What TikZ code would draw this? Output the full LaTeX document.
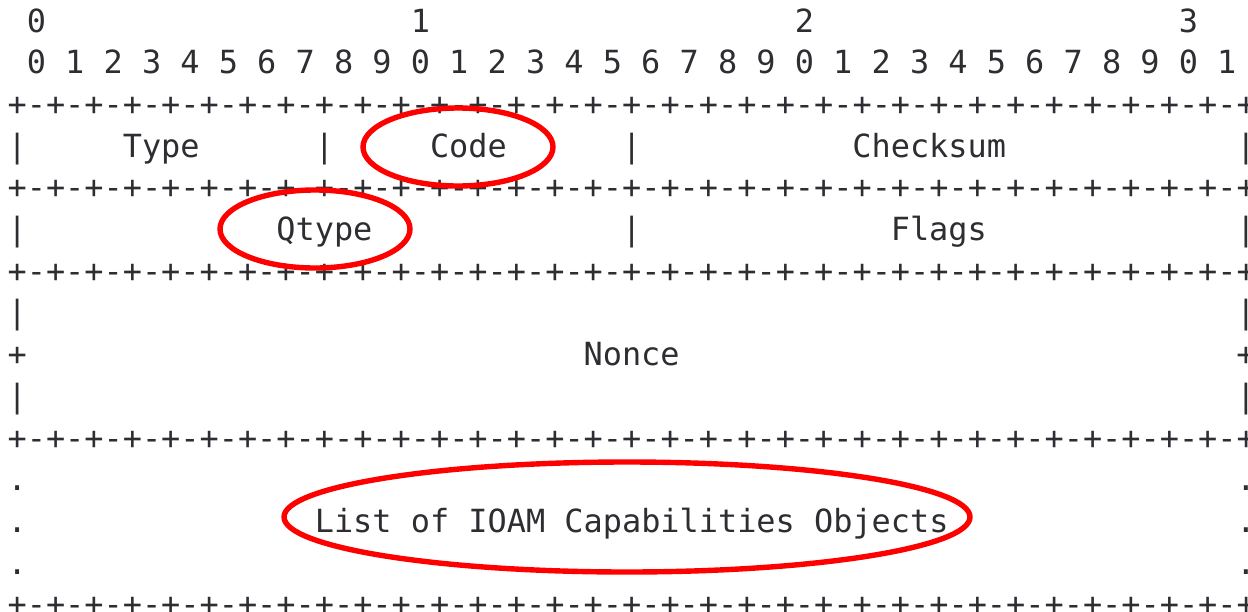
\documentclass[tikz,border=0pt]{standalone}
\usepackage{fontspec}
\newfontfamily\pktfont{DejaVu Sans Mono}
\definecolor{pktgray}{RGB}{45,45,50}
\newcommand{\colx}[1]{7.4+19.2*(#1)}
\newcommand{\rowy}[1]{32+41.7*(#1)}
\newcommand{\ruleline}{+-+-+-+-+-+-+-+-+-+-+-+-+-+-+-+-+-+-+-+-+-+-+-+-+-+-+-+-+-+-+-+-+}
\tikzset{
  cell/.style={anchor=base west, inner sep=0pt, text=pktgray,
    font=\pktfont\fontsize{31.9}{38}\selectfont},
  ring/.style={draw=red, line width=5.4pt}
}
\begin{document}
\begin{tikzpicture}[x=1pt, y=-1pt]
\useasboundingbox (0,0) rectangle (1248,611);

% Bit numbers
\node[cell] (ten0) at ({\colx{1}},{\rowy{0}}) {0};
\node[cell] (ten1) at ({\colx{21}},{\rowy{0}}) {1};
\node[cell] (ten2) at ({\colx{41}},{\rowy{0}}) {2};
\node[cell] (ten3) at ({\colx{61}},{\rowy{0}}) {3};
\foreach \i [evaluate=\i as \d using {int(mod(\i,10))}] in {0,...,31}
  \node[cell] (bit\i) at ({\colx{1+2*\i}},{\rowy{1}}) {\d};

% Border lines
\foreach \r in {2,4,6,10,14}
  \node[cell] (border\r) at ({\colx{0}},{\rowy{\r}}) {\ruleline};

% Type / Code / Checksum
\node[cell] (barA) at ({\colx{0}},{\rowy{3}}) {|};
\node[cell] (type) at ({\colx{6}},{\rowy{3}}) {Type};
\node[cell] (barB) at ({\colx{16}},{\rowy{3}}) {|};
\node[cell] (code) at ({\colx{22}},{\rowy{3}}) {Code};
\node[cell] (barC) at ({\colx{32}},{\rowy{3}}) {|};
\node[cell] (checksum) at ({\colx{44}},{\rowy{3}}) {Checksum};
\node[cell] (barD) at ({\colx{64}},{\rowy{3}}) {|};

% Qtype / Flags
\node[cell] (barE) at ({\colx{0}},{\rowy{5}}) {|};
\node[cell] (qtype) at ({\colx{14}},{\rowy{5}}) {Qtype};
\node[cell] (barF) at ({\colx{32}},{\rowy{5}}) {|};
\node[cell] (flags) at ({\colx{46}},{\rowy{5}}) {Flags};
\node[cell] (barG) at ({\colx{64}},{\rowy{5}}) {|};

% Nonce
\foreach \r/\s in {7/|,8/+,9/|} {
  \node[cell] (left\r) at ({\colx{0}},{\rowy{\r}}) {\s};
  \node[cell] (right\r) at ({\colx{64}},{\rowy{\r}}) {\s};
}
\node[cell] (nonce) at ({\colx{30}},{\rowy{8}}) {Nonce};

% Capabilities objects
\foreach \r in {11,12,13} {
  \node[cell] (ldot\r) at ({\colx{0}},{\rowy{\r}}) {.};
  \node[cell] (rdot\r) at ({\colx{64}},{\rowy{\r}}) {.};
}
\node[cell] (objects) at ({\colx{16}},{\rowy{12}}) {List of IOAM Capabilities Objects};

% Highlight rings
\draw[ring] (458,147) ellipse [x radius=95pt, y radius=39pt];
\draw[ring] (315,229) ellipse [x radius=95pt, y radius=39pt];
\draw[ring] (627,517) ellipse [x radius=343pt, y radius=55pt];

\end{tikzpicture}
\end{document}
